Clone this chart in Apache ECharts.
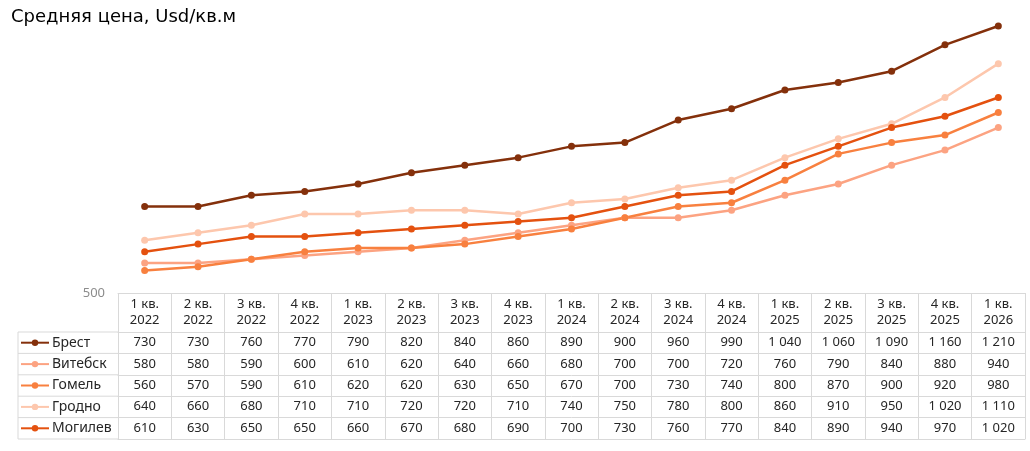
<!DOCTYPE html>
<html>
<head>
<meta charset="utf-8">
<script src="https://cdn.jsdelivr.net/npm/echarts@6/dist/echarts.min.js"></script>
<style>
  html, body { margin: 0; padding: 0; background: #fff; }
  #main { width: 1030px; height: 451px; }
</style>
</head>
<body>
<div id="main"></div>
<script>
    var quarters = ['1 кв.\n2022', '2 кв.\n2022', '3 кв.\n2022', '4 кв.\n2022',
        '1 кв.\n2023', '2 кв.\n2023', '3 кв.\n2023', '4 кв.\n2023',
        '1 кв.\n2024', '2 кв.\n2024', '3 кв.\n2024', '4 кв.\n2024',
        '1 кв.\n2025', '2 кв.\n2025', '3 кв.\n2025', '4 кв.\n2025', '1 кв.\n2026'];
    var cityNames = ['Брест', 'Витебск', 'Гомель', 'Гродно', 'Могилев'];
    var brest   = [730, 730, 760, 770, 790, 820, 840, 860, 890, 900, 960, 990, 1040, 1060, 1090, 1160, 1210];
    var vitebsk = [580, 580, 590, 600, 610, 620, 640, 660, 680, 700, 700, 720, 760, 790, 840, 880, 940];
    var gomel   = [560, 570, 590, 610, 620, 620, 630, 650, 670, 700, 730, 740, 800, 870, 900, 920, 980];
    var grodno  = [640, 660, 680, 710, 710, 720, 720, 710, 740, 750, 780, 800, 860, 910, 950, 1020, 1110];
    var mogilev = [610, 630, 650, 650, 660, 670, 680, 690, 700, 730, 760, 770, 840, 890, 940, 970, 1020];
    var yMin = 500, yMax = 1250, yStep = 250;

    var cityData = [brest, vitebsk, gomel, grodno, mogilev];
    var colors = ['#84300b', '#fca382', '#f8803f', '#fdc7ad', '#e4510f'];

    var chartDom = document.getElementById('main');
    var myChart = echarts.init(chartDom);

    var FONT = 'Noto Sans';
    var gridTop = 11, gridBottomY = 293, rowH = 21.4, headH = 39;
    var borderColor = '#d9d9d9';

    // "1 040" style numbers
    function fmt(v) {
        if (v >= 1000) {
            var rest = String(v % 1000);
            while (rest.length < 3) rest = '0' + rest;
            return Math.floor(v / 1000) + ' ' + rest;
        }
        return String(v);
    }

    var xAxes = [{
        type: 'category',
        data: quarters,
        gridIndex: 0,
        position: 'bottom',
        axisLine: { show: true, lineStyle: { color: borderColor, width: 1 } },
        axisTick: { show: true, length: headH + rowH * 5, lineStyle: { color: borderColor } },
        axisLabel: { interval: 0, margin: 3, fontSize: 13, lineHeight: 16, color: '#262626', fontFamily: FONT }
    }];
    // one axis per table row, its axis line is the row's top border
    cityData.forEach(function (arr, i) {
        xAxes.push({
            type: 'category',
            data: quarters,
            gridIndex: 0,
            position: 'bottom',
            offset: headH + rowH * i,
            axisLine: { show: true, lineStyle: { color: borderColor, width: 1 } },
            axisTick: { show: false },
            axisLabel: {
                interval: 0, margin: 4, fontSize: 13, color: '#262626', fontFamily: FONT,
                formatter: function (v, idx) { return fmt(arr[idx]); }
            }
        });
    });
    // bottom border of the table
    xAxes.push({
        type: 'category',
        data: quarters,
        gridIndex: 0,
        position: 'bottom',
        offset: headH + rowH * 5,
        axisLine: { show: true, lineStyle: { color: borderColor, width: 1 } },
        axisTick: { show: false },
        axisLabel: { show: false }
    });

    var series = cityNames.map(function (name, i) {
        return {
            name: name,
            type: 'line',
            data: cityData[i],
            xAxisIndex: 0,
            color: colors[i],
            symbol: 'circle',
            symbolSize: 7,
            lineStyle: { width: 2.5 },
            z: i === 0 ? 3 : 2
        };
    });

    // legend column borders
    var legendLines = [];
    var tableTop = gridBottomY + headH;
    for (var r = 0; r <= 5; r++) {
        legendLines.push({
            type: 'line',
            shape: { x1: 18, y1: tableTop + rowH * r, x2: 118, y2: tableTop + rowH * r },
            style: { stroke: borderColor, lineWidth: 1 }
        });
    }
    legendLines.push({
        type: 'line',
        shape: { x1: 18, y1: tableTop, x2: 18, y2: tableTop + rowH * 5 },
        style: { stroke: borderColor, lineWidth: 1 }
    });

    var option = {
        animation: false,
        title: {
            text: 'Средняя цена, Usd/кв.м',
            left: 6,
            top: 3,
            textStyle: { fontFamily: 'DejaVu Sans', fontSize: 18, fontWeight: 'normal', color: '#000' }
        },
        grid: {
            left: 118,
            right: 5,
            top: gridTop,
            bottom: 451 - gridBottomY
        },
        legend: {
            orient: 'vertical',
            left: 20,
            top: tableTop,
            padding: 0,
            itemWidth: 28,
            itemHeight: 8,
            itemGap: 0,
            textStyle: { fontFamily: FONT, fontSize: 14, lineHeight: rowH, color: '#262626', padding: [0, 0, 0, -2] },
            data: cityNames
        },
        xAxis: xAxes,
        yAxis: {
            type: 'value',
            min: yMin,
            max: yMax,
            interval: yStep,
            splitLine: { show: false },
            axisLine: { show: false },
            axisTick: { show: false },
            axisLabel: {
                margin: 13,
                fontSize: 13,
                color: '#8c8c8c',
                fontFamily: FONT,
                formatter: function (v) { return v === yMin ? String(v) : ''; }
            }
        },
        graphic: legendLines,
        series: series
    };

    myChart.setOption(option);
</script>
</body>
</html>
